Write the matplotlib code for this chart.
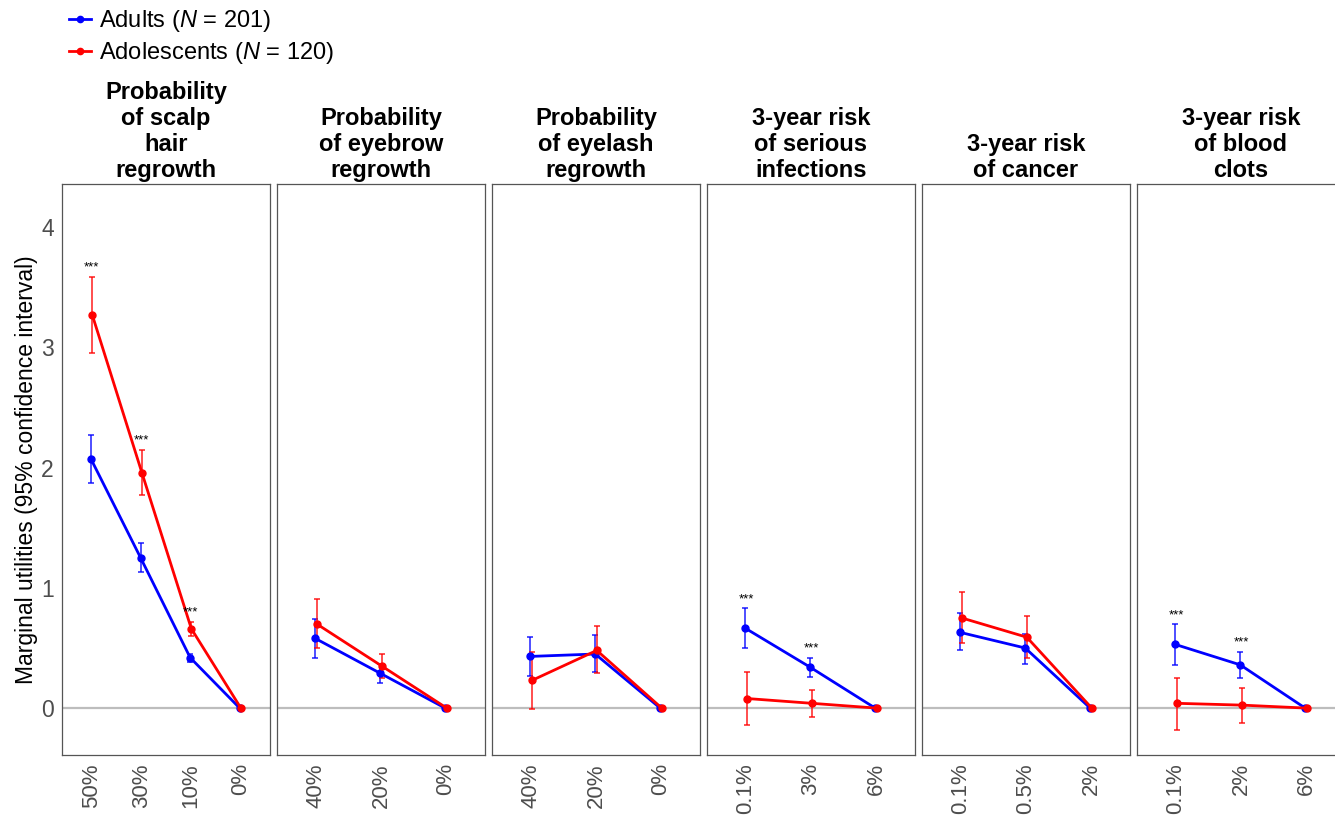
import numpy as np
import matplotlib
matplotlib.use("Agg")
import matplotlib.pyplot as plt
from matplotlib.lines import Line2D

plt.rcParams['font.family'] = ['Liberation Sans', 'DejaVu Sans']
plt.rcParams['mathtext.fontset'] = 'custom'
plt.rcParams['mathtext.it'] = 'Liberation Sans:italic'
plt.rcParams['mathtext.rm'] = 'Liberation Sans'

# facetas (atributos) y sus niveles
titles = ["Probability\nof scalp\nhair\nregrowth",
          "Probability\nof eyebrow\nregrowth",
          "Probability\nof eyelash\nregrowth",
          "3-year risk\nof serious\ninfections",
          "3-year risk\nof cancer",
          "3-year risk\nof blood\nclots"]
levels = [["50%", "30%", "10%", "0%"],
          ["40%", "20%", "0%"],
          ["40%", "20%", "0%"],
          ["0.1%", "3%", "6%"],
          ["0.1%", "0.5%", "2%"],
          ["0.1%", "2%", "6%"]]

# Adultos: estimacion, limite inferior, limite superior
adults_est = [[2.07, 1.25, 0.42, 0], [0.58, 0.29, 0], [0.43, 0.45, 0],
              [0.665, 0.34, 0], [0.63, 0.50, 0], [0.53, 0.36, 0]]
adults_lo = [[1.87, 1.13, 0.38, 0], [0.42, 0.21, 0], [0.27, 0.30, 0],
             [0.50, 0.255, 0], [0.48, 0.37, 0], [0.36, 0.25, 0]]
adults_hi = [[2.27, 1.37, 0.45, 0], [0.74, 0.37, 0], [0.59, 0.61, 0],
             [0.83, 0.42, 0], [0.79, 0.62, 0], [0.70, 0.47, 0]]

# Adolescentes
adol_est = [[3.27, 1.96, 0.66, 0], [0.70, 0.35, 0], [0.23, 0.48, 0],
            [0.08, 0.04, 0], [0.75, 0.59, 0], [0.04, 0.025, 0]]
adol_lo = [[2.95, 1.77, 0.60, 0], [0.50, 0.25, 0], [-0.01, 0.29, 0],
           [-0.14, -0.07, 0], [0.54, 0.42, 0], [-0.18, -0.12, 0]]
adol_hi = [[3.59, 2.15, 0.72, 0], [0.91, 0.45, 0], [0.47, 0.68, 0],
           [0.30, 0.15, 0], [0.97, 0.77, 0], [0.25, 0.17, 0]]

# diferencias significativas (***)
signif = [[1, 1, 1, 0], [0, 0, 0], [0, 0, 0], [1, 1, 0], [0, 0, 0], [1, 1, 0]]

BLUE = "#0000FF"
RED = "#FF0000"
W, H = 1335, 815

fig = plt.figure(figsize=(W / 100, H / 100), dpi=100)

lefts = [62, 277, 492, 707, 922, 1137]
pw = 208
top, bottom = 184, 755

for i in range(6):
    x0 = lefts[i]
    ax = fig.add_axes([x0 / W, 1 - bottom / H, pw / W, (bottom - top) / H])
    n = len(levels[i])
    x = np.arange(1, n + 1)
    ax.axhline(0, color="#bdbdbd", lw=1.6, zorder=1)
    for est, lo, hi, col, dx in [(adults_est[i], adults_lo[i], adults_hi[i], BLUE, -0.012),
                                 (adol_est[i], adol_lo[i], adol_hi[i], RED, 0.012)]:
        est = np.array(est); lo = np.array(lo); hi = np.array(hi)
        ax.errorbar(x + dx, est, yerr=[est - lo, hi - est], fmt="none",
                    ecolor=col, elinewidth=1.3, capsize=2.5, capthick=1.3,
                    alpha=0.75, zorder=2)
        ax.plot(x + dx, est, color=col, lw=2.0, marker="o", ms=5, zorder=3)
    for j in range(n):
        if signif[i][j]:
            y = max(adults_hi[i][j], adol_hi[i][j]) + 0.05
            ax.text(x[j], y, "***", ha="center", va="baseline", fontsize=9.5)
    ax.set_xlim(0.4, n + 0.6)
    ax.set_ylim(-0.39, 4.36)
    ax.set_xticks(x)
    ax.set_xticklabels(levels[i], rotation=90, fontsize=16, color="#4d4d4d")
    ax.set_yticks([0, 1, 2, 3, 4])
    ax.tick_params(length=0, pad=6)
    if i == 0:
        ax.set_yticklabels(["0", "1", "2", "3", "4"], fontsize=16.5, color="#4d4d4d")
        ax.set_ylabel("Marginal utilities (95% confidence interval)", fontsize=16.5, labelpad=2)
    else:
        ax.set_yticklabels([])
    for s in ax.spines.values():
        s.set_color("#555555")
        s.set_linewidth(0.9)
    ax.set_title(titles[i], fontsize=17, fontweight="bold", pad=5, linespacing=1.17)

handles = [Line2D([0], [0], color=BLUE, lw=2, marker="o", ms=4.5),
           Line2D([0], [0], color=RED, lw=2, marker="o", ms=4.5)]
fig.legend(handles, ["Adults ($\\it{N}$ = 201)", "Adolescents ($\\it{N}$ = 120)"],
           loc="upper left", bbox_to_anchor=(69 / W, 1 - 8 / H), frameon=False,
           fontsize=17, handlelength=0.95, handletextpad=0.3, labelspacing=0.25,
           borderaxespad=0, borderpad=0)

fig.savefig("out.png", dpi=100)
